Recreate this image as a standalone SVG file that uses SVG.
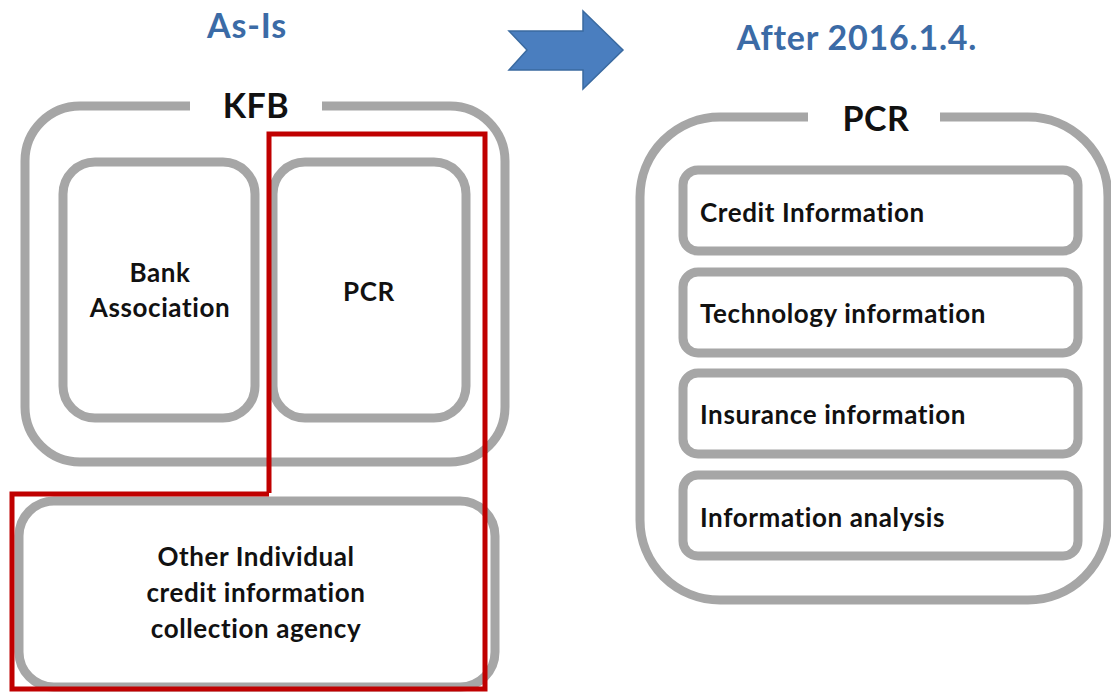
<svg xmlns="http://www.w3.org/2000/svg" width="1111" height="693" viewBox="0 0 1111 693">
<style>
.box{fill:none;stroke:#a6a6a6;stroke-width:9}
.t{font-family:Lato,"Liberation Sans",sans-serif;font-weight:bold;fill:#111;font-size:26px;letter-spacing:0.6px}
.big{font-size:34px;letter-spacing:0.5px}
.h{font-family:Lato,"Liberation Sans",sans-serif;font-weight:bold;fill:#3b6ba6;font-size:34px;letter-spacing:0.8px;text-anchor:middle}
.c{text-anchor:middle}
</style>
<rect width="1111" height="693" fill="#fff"/>
<g id="title-asis"><text class="h" x="247" y="38">As-Is</text></g>
<g id="title-after"><text class="h" x="857" y="50">After 2016.1.4.</text></g>
<g id="transition-arrow"><polygon points="509,31 583,31 583,11 623,50 583,89 583,70 509,70 527,50" fill="#4a7ebf" stroke="#3a6aa0" stroke-width="1.5"/></g>
<g id="kfb">
<path class="box" d="M190,106 H80 A55,55 0 0 0 25,161 V407 A55,55 0 0 0 80,462 H450 A55,55 0 0 0 505,407 V161 A55,55 0 0 0 450,106 H322"/>
<text class="t big c" x="256" y="118">KFB</text>
</g>
<g id="bank-association">
<rect class="box" x="63" y="162" width="192" height="256" rx="32"/>
<text class="t c" x="160" y="282">Bank</text>
<text class="t c" x="160" y="317">Association</text>
</g>
<g id="pcr-left">
<rect class="box" x="273" y="162" width="193" height="256" rx="32"/>
<text class="t c" x="369" y="301">PCR</text>
</g>
<g id="other-agency">
<rect class="box" x="19" y="501" width="476" height="186" rx="35"/>
<text class="t c" x="256" y="566">Other Individual</text>
<text class="t c" x="256" y="602">credit information</text>
<text class="t c" x="256" y="638">collection agency</text>
</g>
<g id="red-boundary"><path d="M269,493 V134 H485 V689 H12 V494 H269" fill="none" stroke="#c00000" stroke-width="5" stroke-linejoin="miter"/></g>
<g id="pcr-right">
<path class="box" d="M808,117 H720 A80,80 0 0 0 640,197 V520 A80,80 0 0 0 720,600 H1028 A80,80 0 0 0 1108,520 V197 A80,80 0 0 0 1028,117 H940"/>
<text class="t big c" x="876" y="131">PCR</text>
</g>
<g id="credit-information">
<rect class="box" x="683" y="170" width="395" height="81" rx="15"/>
<text class="t" x="700" y="222">Credit Information</text>
</g>
<g id="technology-information">
<rect class="box" x="683" y="272" width="395" height="81" rx="15"/>
<text class="t" x="700" y="323">Technology information</text>
</g>
<g id="insurance-information">
<rect class="box" x="683" y="373" width="395" height="81" rx="15"/>
<text class="t" x="700" y="424">Insurance information</text>
</g>
<g id="information-analysis">
<rect class="box" x="683" y="475" width="395" height="81" rx="15"/>
<text class="t" x="700" y="527">Information analysis</text>
</g>
<g id="connectors"></g>
</svg>
